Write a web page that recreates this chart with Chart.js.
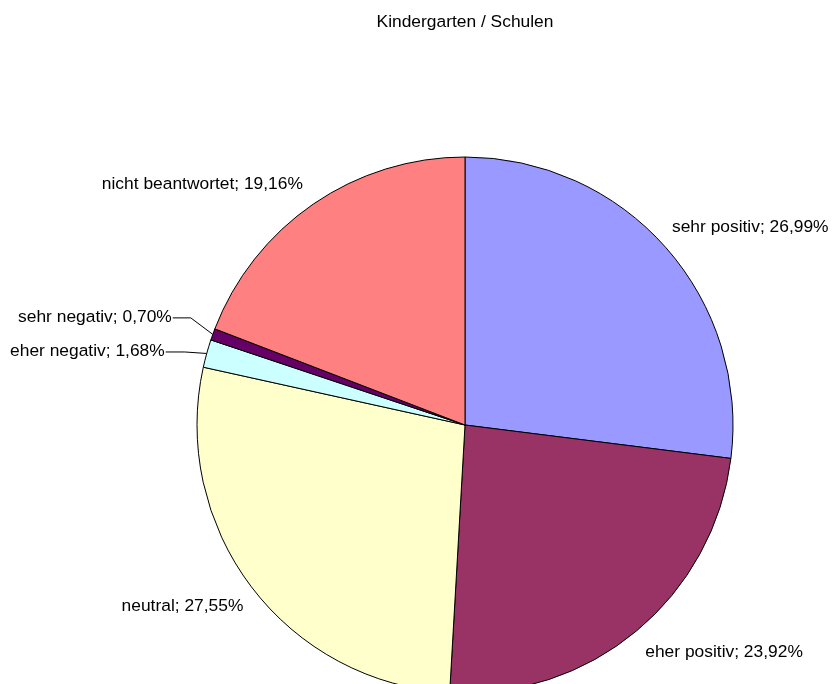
<!DOCTYPE html>
<html>
<head>
<meta charset="utf-8">
<title>Kindergarten / Schulen</title>
<script src="https://cdn.jsdelivr.net/npm/chart.js@4/dist/chart.umd.min.js"></script>
<style>
    html, body { margin: 0; padding: 0; background: #fff; }
    #wrap { width: 832px; height: 684px; overflow: hidden; position: relative; }
    canvas { display: block; }
</style>
</head>
<body>
<div id="wrap">
    <canvas id="pieChart" width="832" height="700"></canvas>
</div>
<script>
// --- DATA ---

const chartTitle = "Kindergarten / Schulen";
const categories = ["sehr positiv", "eher positiv", "neutral", "eher negativ", "sehr negativ", "nicht beantwortet"];
const shares = [26.99, 23.92, 27.55, 1.68, 0.70, 19.16];
const sliceColors = ["#9999FF", "#993366", "#FFFFCC", "#CCFFFF", "#660066", "#FF8080"];

const FONT = "17.4px 'Liberation Sans', Arial, sans-serif";

// label tweaks per slice: nudge from the mid-angle anchor, or a leader line
const labelStyle = [
    { dx: -9, dy: -7 },
    { dx: -4, dy: 6 },
    { dx: 8, dy: 7 },
    { leader: true, dx: -42, dy: -2, elbow: 20 },
    { leader: true, dx: -41, dy: -17, elbow: 19 },
    { dx: 1, dy: -3 }
];

function formatShare(v) {
    return v.toFixed(2).replace('.', ',') + '%';
}

// --- LABEL PLUGIN (Excel-style outside labels) ---

const pieLabels = {
    id: 'pieLabels',
    afterDraw(chart) {
        const ctx = chart.ctx;
        const meta = chart.getDatasetMeta(0);

        ctx.save();
        ctx.font = FONT;
        ctx.fillStyle = '#000';
        ctx.textBaseline = 'middle';

        // title
        ctx.textAlign = 'center';
        ctx.fillText(chartTitle, 465, 22);

        meta.data.forEach((arc, i) => {
            const mid = (arc.startAngle + arc.endAngle) / 2;
            const cos = Math.cos(mid), sin = Math.sin(mid);
            const st = labelStyle[i] || { dx: 0, dy: 0 };
            const text = categories[i] + '; ' + formatShare(shares[i]);

            if (st.leader) {
                const ex = arc.x + cos * arc.outerRadius;
                const ey = arc.y + sin * arc.outerRadius;
                const tx = ex + st.dx;
                const ty = ey + st.dy;
                ctx.strokeStyle = '#000';
                ctx.lineWidth = 1;
                ctx.beginPath();
                ctx.moveTo(ex, ey);
                ctx.lineTo(tx + st.elbow, ty + 0.5);
                ctx.lineTo(tx + 1, ty + 0.5);
                ctx.stroke();
                ctx.textAlign = 'right';
                ctx.fillText(text, tx, ty);
            } else {
                const r = arc.outerRadius + 20;
                const ax = arc.x + cos * r + st.dx;
                const ay = arc.y + sin * r + st.dy;
                ctx.textAlign = cos >= 0 ? 'left' : 'right';
                ctx.fillText(text, ax, ay);
            }
        });

        ctx.restore();
    }
};

// --- CHART ---

function renderChart() {
    const canvas = document.getElementById('pieChart');

    new Chart(canvas, {
        type: 'pie',
        data: {
            labels: categories,
            datasets: [{
                data: shares,
                backgroundColor: sliceColors,
                borderColor: '#000',
                borderWidth: 1,
                borderAlign: 'center'
            }]
        },
        options: {
            responsive: false,
            animation: false,
            devicePixelRatio: 1,
            radius: 268,
            layout: { padding: { left: 98, right: 0, top: 150, bottom: 0 } },
            plugins: {
                legend: { display: false },
                title: { display: false },
                tooltip: { enabled: false }
            }
        },
        plugins: [pieLabels]
    });
}

document.addEventListener('DOMContentLoaded', renderChart);
</script>
</body>
</html>
